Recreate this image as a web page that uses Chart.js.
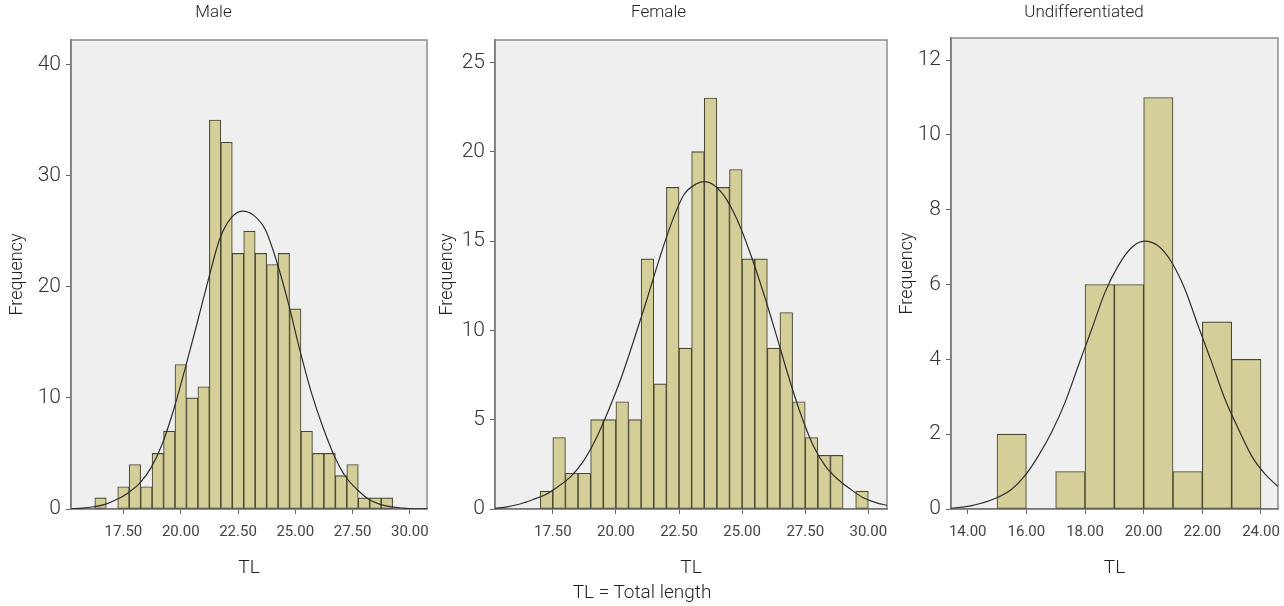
<!DOCTYPE html>
<html><head><meta charset="utf-8">
<script src="https://cdn.jsdelivr.net/npm/chart.js@4.4.1/dist/chart.umd.min.js"></script>
<style>
html,body{margin:0;padding:0;background:#fff;width:1284px;height:606px;overflow:hidden;position:relative;}
canvas{position:absolute;top:0;}
#note{position:absolute;left:0;width:1284px;top:581px;line-height:22px;text-align:center;font-family:Roboto,sans-serif;font-weight:300;font-size:19px;color:#222;}
</style></head><body>
<canvas id="c1" width="440" height="606" style="left:0px"></canvas>
<canvas id="c2" width="467" height="606" style="left:430px"></canvas>
<canvas id="c3" width="394" height="606" style="left:890px"></canvas>
<div id="note">TL = Total length</div>
<script>
// ---------- DATA ----------
const panelTitles = ['Male', 'Female', 'Undifferentiated'];
const xAxisTitle = 'TL';
const yAxisTitle = 'Frequency';

// Male
const maleBinCenters = [16.5,17.0,17.5,18.0,18.5,19.0,19.5,20.0,20.5,21.0,21.5,22.0,22.5,23.0,23.5,24.0,24.5,25.0,25.5,26.0,26.5,27.0,27.5,28.0,28.5,29.0];
const maleCounts     = [1,0,2,4,2,5,7,13,10,11,35,33,23,25,23,22,23,18,7,5,5,3,4,1,1,1];
const maleCurveX = [15.2,15.7,16.2,16.7,17.2,17.7,18.2,18.7,19.2,19.7,20.2,20.7,21.2,21.7,22.2,22.7,23.2,23.7,24.2,24.7,25.2,25.7,26.2,26.7,27.2,27.7,28.2,28.7,29.2,29.7,30.2,30.75];
const maleCurveY = [0.02,0.07,0.2,0.42,0.85,1.45,2.3,3.7,5.9,9.0,12.7,16.6,20.6,24.3,26.2,26.8,26.4,25.1,22.2,18.5,14.3,10.5,7.4,4.8,2.9,1.75,0.87,0.42,0.19,0.08,0.02,0.01];
const maleXTicks = [17.5,20,22.5,25,27.5,30];
const maleYTicks = [0,10,20,30,40];

// Female
const femaleBinCenters = [17.25,17.75,18.25,18.75,19.25,19.75,20.25,20.75,21.25,21.75,22.25,22.75,23.25,23.75,24.25,24.75,25.25,25.75,26.25,26.75,27.25,27.75,28.25,28.75,29.25,29.75];
const femaleCounts     = [1,4,2,2,5,5,6,5,14,7,18,9,20,23,18,19,14,14,9,11,6,4,3,3,0,1];
const femaleCurveX = [15.21,15.7,16.2,16.7,17.2,17.7,18.2,18.7,19.2,19.7,20.2,20.7,21.2,21.7,22.2,22.7,23.2,23.5,23.8,24.3,24.8,25.3,25.8,26.3,26.8,27.3,27.8,28.3,28.8,29.3,29.8,30.3,30.75];
const femaleCurveY = [0.04,0.12,0.28,0.52,0.8,1.25,1.8,2.65,3.9,5.5,7.3,9.4,11.6,13.9,16.0,17.6,18.2,18.32,18.2,17.5,16.2,14.4,12.3,10.0,7.6,5.4,3.6,2.4,1.65,1.1,0.63,0.36,0.2];
const femaleXTicks = [17.5,20,22.5,25,27.5,30];
const femaleYTicks = [0,5,10,15,20,25];

// Undifferentiated
const undiffBinCenters = [15.5,16.5,17.5,18.5,19.5,20.5,21.5,22.5,23.5];
const undiffCounts     = [2,0,1,6,6,11,1,5,4];
const undiffCurveX = [13.43,14.14,14.93,15.5,15.95,16.41,16.86,17.32,17.77,18.23,18.68,19.13,19.59,20.02,20.5,20.96,21.41,21.86,22.32,22.77,23.23,23.68,24.14,24.58];
const undiffCurveY = [0.02,0.09,0.28,0.53,0.89,1.42,2.05,2.85,3.83,4.81,5.79,6.5,6.99,7.16,7.03,6.59,5.87,4.89,3.92,2.94,2.14,1.42,0.93,0.6];
const undiffXTicks = [14,16,18,20,22,24];
const undiffYTicks = [0,2,4,6,8,10,12];

// ---------- STYLE / LAYOUT ----------
const FONT = 'Roboto, "Liberation Sans", sans-serif';
const BAR_FILL = '#d4cf98';
const BAR_EDGE = '#4a4833';

const plotFrame = {
  id: 'plotFrame',
  beforeDraw(chart) {
    const a = chart.chartArea, ctx = chart.ctx;
    ctx.save();
    ctx.fillStyle = '#efefef';
    ctx.fillRect(a.left, a.top, a.right - a.left, a.bottom - a.top);
    ctx.strokeStyle = '#8c8c8c';
    ctx.lineWidth = 1.5;
    ctx.strokeRect(a.left, a.top, a.right - a.left, a.bottom - a.top);
    ctx.restore();
  }
};

function makeChart(id, o) {
  const bars = o.centers.map((c, i) => ({x: c, y: o.counts[i] === 0 ? null : o.counts[i]}));
  const curve = o.curveX.map((x, i) => ({x: x, y: o.curveY[i]}));
  return new Chart(document.getElementById(id), {
    data: {
      datasets: [
        {type: 'line', data: curve, borderColor: '#2e2e2e', borderWidth: 1.2, pointRadius: 0,
         cubicInterpolationMode: 'monotone', fill: false, order: 0},
        {type: 'bar', data: bars, backgroundColor: BAR_FILL, borderColor: BAR_EDGE, borderWidth: 1.1,
         borderSkipped: false, barPercentage: 1, categoryPercentage: 1, order: 1}
      ]
    },
    options: {
      responsive: false, animation: false, devicePixelRatio: 1,
      layout: {padding: {left: 0, right: o.padRight, top: 0, bottom: 0}},
      plugins: {
        legend: {display: false}, tooltip: {enabled: false},
        title: {display: true, text: o.title, color: '#222',
                font: {family: FONT, size: 17, weight: 300},
                padding: {top: 3, bottom: o.top - 23.4}}
      },
      scales: {
        x: {
          type: 'linear', min: o.xMin, max: o.xMax, offset: false,
          grid: {display: true, drawOnChartArea: false, drawTicks: true, tickLength: 5, tickColor: '#666', offset: false},
          border: {display: true, color: '#777', width: 1.5},
          afterBuildTicks: s => { s.ticks = o.xTicks.map(v => ({value: v})); },
          afterFit: s => { s.height = 606 - 509; s.paddingLeft = 0; s.paddingRight = 0; },
          ticks: {autoSkip: false, maxRotation: 0, padding: 9, color: '#444',
                  font: {family: FONT, size: 15}, callback: v => Number(v).toFixed(2)},
          title: {display: true, text: xAxisTitle, color: '#222', font: {family: FONT, size: 19, weight: 300},
                  padding: {top: 0, bottom: 26}}
        },
        y: {
          type: 'linear', min: 0, max: o.yMax,
          grid: {display: true, drawOnChartArea: false, drawTicks: true, tickLength: 5, tickColor: '#666'},
          border: {display: true, color: '#777', width: 1.5},
          afterBuildTicks: s => { s.ticks = o.yTicks.map(v => ({value: v})); },
          afterFit: s => { s.width = o.yW; s.paddingTop = 0; s.paddingBottom = 0; },
          ticks: {padding: 5, color: '#333', font: {family: FONT, size: 21, weight: 300}},
          title: {display: true, text: yAxisTitle, color: '#222', font: {family: FONT, size: 18, weight: 300},
                  padding: {top: 6.7, bottom: 0}}
        }
      }
    },
    plugins: [plotFrame]
  });
}

makeChart('c1', {title: panelTitles[0], centers: maleBinCenters, counts: maleCounts,
  curveX: maleCurveX, curveY: maleCurveY, xTicks: maleXTicks, yTicks: maleYTicks,
  xMin: 15.21, xMax: 30.75, yMax: 42.2, yW: 71, padRight: 13, top: 40});
makeChart('c2', {title: panelTitles[1], centers: femaleBinCenters, counts: femaleCounts,
  curveX: femaleCurveX, curveY: femaleCurveY, xTicks: femaleXTicks, yTicks: femaleYTicks,
  xMin: 15.21, xMax: 30.74, yMax: 26.25, yW: 65, padRight: 10, top: 40});
makeChart('c3', {title: panelTitles[2], centers: undiffBinCenters, counts: undiffCounts,
  curveX: undiffCurveX, curveY: undiffCurveY, xTicks: undiffXTicks, yTicks: undiffYTicks,
  xMin: 13.43, xMax: 24.58, yMax: 12.59, yW: 61, padRight: 6, top: 38});
</script>
</body></html>
